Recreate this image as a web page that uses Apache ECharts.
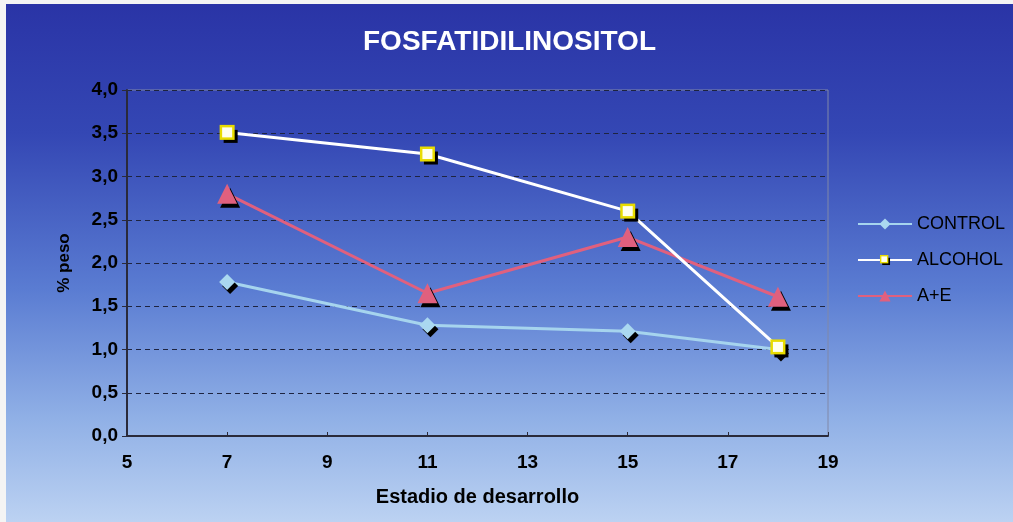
<!DOCTYPE html>
<html>
<head>
<meta charset="utf-8">
<style>
  html, body { margin: 0; padding: 0; background: #f4f4f4; }
  #chart { position: absolute; left: 6px; top: 4px; width: 1007px; height: 518px; }
</style>
<script src="https://cdn.jsdelivr.net/npm/echarts@6/dist/echarts.min.js"></script>
</head>
<body>
<div id="chart"></div>
<script>
// Developmental stages (x) and phosphatidylinositol weight percentages
const stages = [7, 11, 15, 18];
const controlValues = [1.78, 1.28, 1.21, 1.00];
const alcoholValues = [3.51, 3.26, 2.60, 1.03];
const aeValues = [2.80, 1.65, 2.30, 1.61];
const seriesNames = ['CONTROL', 'ALCOHOL', 'A+E'];

const pairs = vals => stages.map((s, i) => [s, vals[i]]);
const fmtComma = v => v.toFixed(1).replace('.', ',');

const FONT = 'Liberation Sans, Arial, sans-serif';
const markShadow = { shadowColor: '#000', shadowBlur: 0, shadowOffsetX: 3, shadowOffsetY: 4 };

// Square marker with its drop shadow, drawn as one image so the shadow stays behind the fill
const squareSvg =
  "<svg xmlns='http://www.w3.org/2000/svg' width='20' height='20'>" +
  "<rect x='5' y='6' width='14' height='13' fill='#000'/>" +
  "<rect x='2.25' y='2.25' width='12.5' height='12.5' fill='#ffffee' stroke='#e8dc00' stroke-width='2.5'/>" +
  "</svg>";
const squareSymbol = 'image://data:image/svg+xml;charset=utf-8,' + encodeURIComponent(squareSvg);

const chart = echarts.init(document.getElementById('chart'));
chart.setOption({
  backgroundColor: new echarts.graphic.LinearGradient(0, 0, 0, 1, [
    { offset: 0, color: '#2a34a6' },
    { offset: 0.25, color: '#3447b4' },
    { offset: 0.55, color: '#5a7cd2' },
    { offset: 0.8, color: '#90b0e6' },
    { offset: 1, color: '#bcd2f2' }
  ]),
  textStyle: { fontFamily: FONT },
  title: {
    text: 'FOSFATIDILINOSITOL',
    left: 'center',
    top: 19,
    textStyle: { color: '#ffffff', fontSize: 28, fontWeight: 'bold', fontFamily: FONT }
  },
  legend: {
    orient: 'vertical',
    left: 846,
    top: 206,
    itemWidth: 54,
    itemHeight: 14,
    itemGap: 18,
    textStyle: { color: '#000', fontSize: 18, fontFamily: FONT },
    itemStyle: { shadowColor: 'transparent' },
    data: seriesNames
  },
  grid: {
    left: 121, right: 185, top: 86, bottom: 86,
    show: true,
    borderColor: '#8088a8',
    borderWidth: 1,
    backgroundColor: 'transparent'
  },
  xAxis: {
    type: 'value',
    min: 5, max: 19, interval: 2,
    name: 'Estadio de desarrollo',
    nameLocation: 'middle',
    nameGap: 51,
    nameTextStyle: { color: '#000', fontSize: 20, fontWeight: 'bold', fontFamily: FONT },
    axisLine: { lineStyle: { color: '#2a2a3a', width: 2 } },
    axisTick: { show: true, length: 4, inside: true, lineStyle: { color: '#2a2a3a' } },
    axisLabel: { color: '#000', fontSize: 19, fontWeight: 'bold', margin: 17 },
    splitLine: { show: false }
  },
  yAxis: {
    type: 'value',
    min: 0, max: 4, interval: 0.5,
    name: '% peso',
    nameLocation: 'middle',
    nameGap: 54,
    nameRotate: 90,
    nameTextStyle: { color: '#000', fontSize: 17, fontWeight: 'bold', fontFamily: FONT },
    axisLine: { show: true, lineStyle: { color: '#2a2a3a', width: 2 } },
    axisTick: { show: true, length: 5, lineStyle: { color: '#2a2a3a' } },
    axisLabel: { color: '#000', fontSize: 19, fontWeight: 'bold', margin: 9, formatter: fmtComma },
    splitLine: { show: true, lineStyle: { color: '#1e2440', type: [5, 4], width: 1 } }
  },
  series: [
    {
      name: 'CONTROL',
      type: 'line',
      data: pairs(controlValues),
      symbol: 'diamond',
      symbolSize: 16,
      lineStyle: { color: '#a6d4ee', width: 3 },
      itemStyle: Object.assign({ color: '#aad8f0', borderWidth: 0 }, markShadow),
      z: 2
    },
    {
      name: 'ALCOHOL',
      type: 'line',
      data: pairs(alcoholValues),
      symbol: squareSymbol,
      symbolSize: 20,
      symbolOffset: [1.5, 1.5],
      lineStyle: { color: '#ffffff', width: 3 },
      itemStyle: { color: '#ffffee' },
      z: 4
    },
    {
      name: 'A+E',
      type: 'line',
      data: pairs(aeValues),
      symbol: 'triangle',
      symbolSize: 20,
      lineStyle: { color: '#e0607e', width: 3 },
      itemStyle: Object.assign({ color: '#e0607e', borderWidth: 0 }, markShadow),
      z: 3
    }
  ]
});
</script>
</body>
</html>
